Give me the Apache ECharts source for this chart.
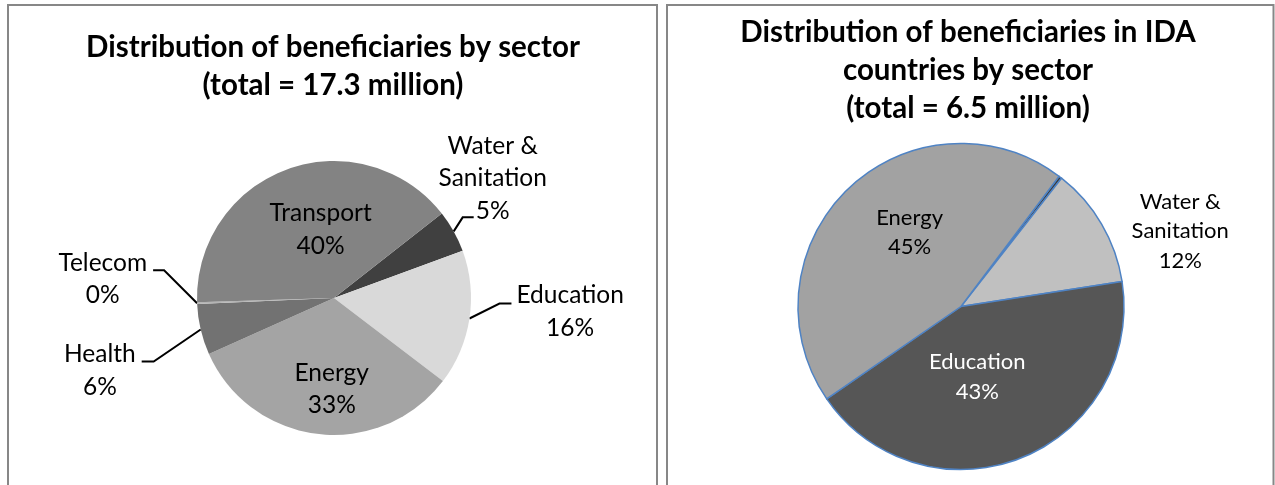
<!DOCTYPE html>
<html>
<head>
<meta charset="utf-8">
<script src="https://cdn.jsdelivr.net/npm/echarts@6/dist/echarts.min.js"></script>
<style>
  html, body { margin: 0; padding: 0; background: #fff; }
  #chart { width: 1275px; height: 485px; }
</style>
</head>
<body>
<div id="chart"></div>
<script>
// Beneficiaries by sector, all countries (share of 17.3 million, %)
const allSectors = ['Water & Sanitation', 'Education', 'Energy', 'Health', 'Telecom', 'Transport'];
const allShares = [5, 16, 33, 6, 0.2, 40];
const allColors = ['#404040', '#d9d9d9', '#a4a4a4', '#727272', '#b4b4b4', '#838383'];

// Beneficiaries by sector, IDA countries (share of 6.5 million, %)
const idaSectors = ['Health', 'Water & Sanitation', 'Education', 'Energy'];
const idaShares = [0.3, 12, 43, 45];
const idaColors = ['#3c3c3c', '#c0c0c0', '#565656', '#a2a2a2'];

const chartTitles = [
  'Distribution of beneficiaries by sector\n(total = 17.3 million)',
  'Distribution of beneficiaries in IDA\ncountries by sector\n(total = 6.5 million)'
];

const FONT = 'Lato';

// Labels drawn inside their slice, nudged from the slice middle
const innerShiftAll = { 'Transport': [11, -1], 'Energy': [6, 20] };
const innerShiftIda = { 'Energy': [7, -13], 'Education': [-15, -8] };

// Elbow-shaped leader lines: elbow offset from the slice edge, horizontal tail,
// and where the text block sits relative to the end of the line
const leaderAll = {
  'Water & Sanitation': { elbow: [9, -14], tail: 11, box: 'center', off: [19, -39] },
  'Education': { elbow: [30, -15], tail: 12, box: 'left', off: [5, 8] },
  'Telecom': { elbow: [-33, -33], tail: 11, box: 'right', off: [-6, 9] },
  'Health': { elbow: [-47, 32], tail: 12, box: 'right', off: [-6, 9] }
};
const leaderIda = {
  'Water & Sanitation': { elbow: [0, 0], tail: 0, box: 'left', off: [30, 7] }
};

function makeLayout(names, innerShift, leaders) {
  return function (p) {
    const name = names[p.dataIndex];
    if (innerShift[name]) {
      return { dx: innerShift[name][0], dy: innerShift[name][1] };
    }
    const s = leaders[name];
    if (!s || !p.labelLinePoints) return {};
    const p0 = p.labelLinePoints[0];
    const elbow = [p0[0] + s.elbow[0], p0[1] + s.elbow[1]];
    const dir = s.elbow[0] >= 0 ? 1 : -1;
    const end = [elbow[0] + dir * s.tail, elbow[1]];
    const w = p.labelRect.width;
    let cx = end[0] + s.off[0];
    if (s.box === 'left') cx += w / 2;
    else if (s.box === 'right') cx -= w / 2;
    return {
      x: cx,
      y: end[1] + s.off[1],
      align: 'center',
      verticalAlign: 'middle',
      labelLinePoints: [p0, elbow, end]
    };
  };
}

function labelText(params) {
  return params.name.replace(' & ', ' &\n') + '\n' + params.percent + '%';
}

const allData = allSectors.map(function (name, i) {
  const inside = !!innerShiftAll[name];
  return {
    name: name,
    value: allShares[i],
    itemStyle: { color: allColors[i] },
    label: { position: inside ? 'inside' : 'outside' },
    labelLine: { show: !inside }
  };
});

const idaData = idaSectors.map(function (name, i) {
  const inside = !!innerShiftIda[name];
  const hasLabel = inside || !!leaderIda[name];
  return {
    name: name,
    value: idaShares[i],
    itemStyle: { color: idaColors[i] },
    label: {
      show: hasLabel,
      position: inside ? 'inside' : 'outside',
      color: name === 'Education' ? '#ffffff' : '#000000'
    },
    labelLine: { show: !inside && hasLabel, lineStyle: { opacity: 0 } }
  };
});

const chart = echarts.init(document.getElementById('chart'), null, { renderer: 'canvas' });

const titleStyle = { fontFamily: FONT, fontWeight: 'bold', fontSize: 29.5, lineHeight: 38, color: '#000' };

chart.setOption({
  backgroundColor: '#ffffff',
  animation: false,
  title: [
    { text: chartTitles[0], left: 333, top: 28, textAlign: 'center', padding: 0, textStyle: titleStyle },
    { text: chartTitles[1], left: 968, top: 13, textAlign: 'center', padding: 0, textStyle: titleStyle }
  ],
  graphic: [
    {
      type: 'rect', silent: true, z: -10,
      shape: { x: 8, y: 5, width: 649, height: 520 },
      style: { fill: 'none', stroke: '#878787', lineWidth: 2 }
    },
    {
      type: 'rect', silent: true, z: -10,
      shape: { x: 667, y: 5, width: 606.5, height: 520 },
      style: { fill: 'none', stroke: '#878787', lineWidth: 2 }
    }
  ],
  series: [
    {
      type: 'pie',
      center: [334, 298],
      radius: 137,
      startAngle: 38.1,
      clockwise: true,
      percentPrecision: 0,
      avoidLabelOverlap: false,
      emphasis: { disabled: true },
      itemStyle: { borderWidth: 0 },
      label: {
        formatter: labelText,
        fontFamily: FONT, fontSize: 24.5, lineHeight: 32.5, color: '#000', align: 'center'
      },
      labelLine: { length: 15, length2: 10, lineStyle: { color: '#000', width: 2 } },
      labelLayout: makeLayout(allSectors, innerShiftAll, leaderAll),
      data: allData
    },
    {
      type: 'pie',
      center: [961, 306.5],
      radius: 163,
      startAngle: 53,
      clockwise: true,
      percentPrecision: 0,
      avoidLabelOverlap: false,
      emphasis: { disabled: true },
      itemStyle: { borderColor: '#4f83c4', borderWidth: 1.5 },
      label: {
        formatter: labelText,
        fontFamily: FONT, fontSize: 22, lineHeight: 29.5, color: '#000', align: 'center'
      },
      labelLine: { length: 10, length2: 10 },
      labelLayout: makeLayout(idaSectors, innerShiftIda, leaderIda),
      data: idaData
    }
  ]
});
</script>
</body>
</html>
